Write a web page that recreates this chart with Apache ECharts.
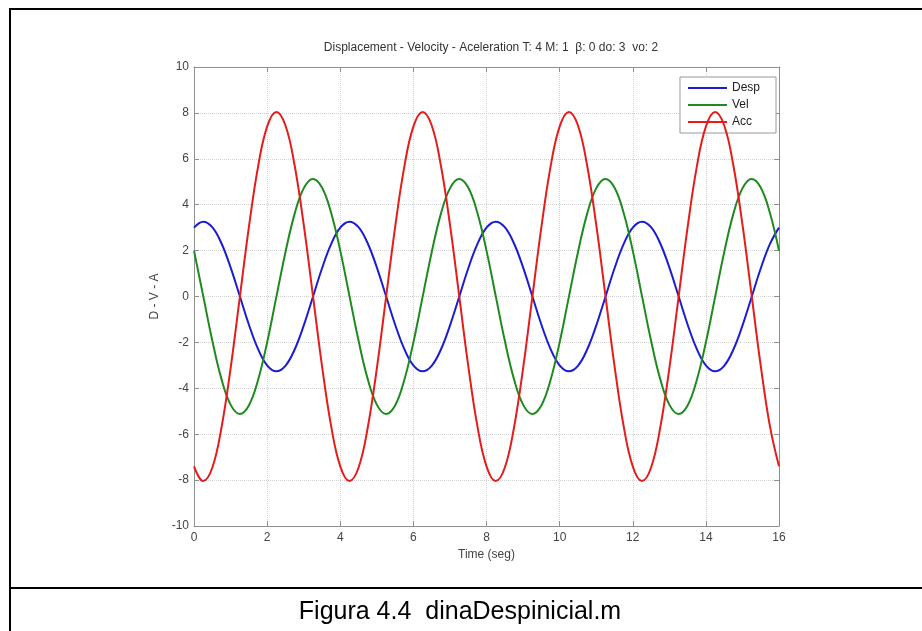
<!DOCTYPE html>
<html>
<head>
<meta charset="utf-8">
<script src="https://cdn.jsdelivr.net/npm/echarts@6/dist/echarts.min.js"></script>
<style>
  html, body { margin: 0; padding: 0; background: #fff; }
  #chart { width: 922px; height: 631px; }
</style>
</head>
<body>
<div id="chart"></div>
<script>
// sample times (s)
const times = [
  0, 0.25, 0.5, 0.75, 1, 1.25, 1.5, 1.75, 2, 2.25, 2.5, 2.75, 3, 3.25, 3.5, 3.75,
  4, 4.25, 4.5, 4.75, 5, 5.25, 5.5, 5.75, 6, 6.25, 6.5, 6.75, 7, 7.25, 7.5, 7.75,
  8, 8.25, 8.5, 8.75, 9, 9.25, 9.5, 9.75, 10, 10.25, 10.5, 10.75, 11, 11.25, 11.5, 11.75,
  12, 12.25, 12.5, 12.75, 13, 13.25, 13.5, 13.75, 14, 14.25, 14.5, 14.75, 15, 15.25, 15.5, 15.75,
  16
]

const desp = [
  3.00, 3.26, 3.02, 2.32, 1.27, 0.03, -1.22, -2.28, -3.00, -3.26, -3.02, -2.32, -1.27, -0.03, 1.22, 2.28,
  3.00, 3.26, 3.02, 2.32, 1.27, 0.03, -1.22, -2.28, -3.00, -3.26, -3.02, -2.32, -1.27, -0.03, 1.22, 2.28,
  3.00, 3.26, 3.02, 2.32, 1.27, 0.03, -1.22, -2.28, -3.00, -3.26, -3.02, -2.32, -1.27, -0.03, 1.22, 2.28,
  3.00, 3.26, 3.02, 2.32, 1.27, 0.03, -1.22, -2.28, -3.00, -3.26, -3.02, -2.32, -1.27, -0.03, 1.22, 2.28,
  3.00
]

const vel = [
  2.00, 0.04, -1.92, -3.59, -4.71, -5.12, -4.75, -3.65, -2.00, -0.04, 1.92, 3.59, 4.71, 5.12, 4.75, 3.65,
  2.00, 0.04, -1.92, -3.59, -4.71, -5.12, -4.75, -3.65, -2.00, -0.04, 1.92, 3.59, 4.71, 5.12, 4.75, 3.65,
  2.00, 0.04, -1.92, -3.59, -4.71, -5.12, -4.75, -3.65, -2.00, -0.04, 1.92, 3.59, 4.71, 5.12, 4.75, 3.65,
  2.00, 0.04, -1.92, -3.59, -4.71, -5.12, -4.75, -3.65, -2.00, -0.04, 1.92, 3.59, 4.71, 5.12, 4.75, 3.65,
  2.00
]

const acc = [
  -7.40, -8.04, -7.46, -5.73, -3.14, -0.07, 3.01, 5.64, 7.40, 8.04, 7.46, 5.73, 3.14, 0.07, -3.01, -5.64,
  -7.40, -8.04, -7.46, -5.73, -3.14, -0.07, 3.01, 5.64, 7.40, 8.04, 7.46, 5.73, 3.14, 0.07, -3.01, -5.64,
  -7.40, -8.04, -7.46, -5.73, -3.14, -0.07, 3.01, 5.64, 7.40, 8.04, 7.46, 5.73, 3.14, 0.07, -3.01, -5.64,
  -7.40, -8.04, -7.46, -5.73, -3.14, -0.07, 3.01, 5.64, 7.40, 8.04, 7.46, 5.73, 3.14, 0.07, -3.01, -5.64,
  -7.40
]

const seriesNames = ['Desp', 'Vel', 'Acc']
const seriesColors = ['#1c1cd2', '#1f8a1f', '#e41c1c']

const chart = echarts.init(document.getElementById('chart'))

const toPairs = arr => arr.map((v, i) => [times[i], v])

const axisGray = '#8f8f8f'
const labelGray = '#444'

const splitLine = {
  show: true,
  lineStyle: { color: '#d2d2d2', type: 'dotted', width: 1 }
}

const boxAxis = {
  axisLine: { show: true, onZero: false, lineStyle: { color: axisGray, width: 1 } },
  axisTick: { show: true, inside: true, length: 5, lineStyle: { color: axisGray } },
  axisLabel: { show: false },
  splitLine: { show: false }
}

const option = {
  animation: false,
  backgroundColor: '#fff',
  title: [{
    text: 'Displacement - Velocity - Aceleration T: 4 M: 1  β: 0 do: 3  vo: 2',
    left: 486,
    textAlign: 'center',
    top: 37,
    textStyle: { fontFamily: 'Liberation Sans', fontSize: 12, fontWeight: 'normal', color: '#333' }
  }],
  legend: {
    data: seriesNames,
    orient: 'vertical',
    right: 146,
    top: 77,
    icon: 'rect',
    itemWidth: 39,
    itemHeight: 2,
    itemGap: 3,
    padding: [4, 16, 4, 8],
    backgroundColor: '#fff',
    borderColor: '#999',
    borderWidth: 1,
    borderRadius: 0,
    textStyle: { fontFamily: 'Liberation Sans', fontSize: 12, color: '#222', lineHeight: 14 }
  },
  grid: { left: 194, right: 143, top: 67, bottom: 105, containLabel: false },
  xAxis: [{
    type: 'value',
    min: 0,
    max: 16,
    interval: 2,
    name: 'Time (seg)',
    nameLocation: 'middle',
    nameGap: 22,
    nameTextStyle: { fontFamily: 'Liberation Sans', fontSize: 12, color: labelGray },
    axisLine: { show: true, onZero: false, lineStyle: { color: axisGray, width: 1 } },
    axisTick: { show: true, inside: true, length: 5, lineStyle: { color: axisGray } },
    axisLabel: { fontFamily: 'Liberation Sans', fontSize: 12, color: labelGray, margin: 6 },
    splitLine: splitLine
  }, Object.assign({
    type: 'value', min: 0, max: 16, interval: 2, position: 'top'
  }, boxAxis)],
  yAxis: [{
    type: 'value',
    min: -10,
    max: 10,
    interval: 2,
    name: 'D - V - A',
    nameLocation: 'middle',
    nameGap: 28,
    nameTextStyle: { fontFamily: 'Liberation Sans', fontSize: 12, color: labelGray },
    axisLine: { show: true, onZero: false, lineStyle: { color: axisGray, width: 1 } },
    axisTick: { show: true, inside: true, length: 5, lineStyle: { color: axisGray } },
    axisLabel: { fontFamily: 'Liberation Sans', fontSize: 12, color: labelGray, margin: 5 },
    splitLine: splitLine
  }, Object.assign({
    type: 'value', min: -10, max: 10, interval: 2, position: 'right'
  }, boxAxis)],
  series: [desp, vel, acc].map((arr, i) => ({
    name: seriesNames[i],
    type: 'line',
    data: toPairs(arr),
    smooth: 0.4,
    showSymbol: false,
    symbol: 'none',
    lineStyle: { color: seriesColors[i], width: 2 },
    itemStyle: { color: seriesColors[i] },
    z: 3 + i
  })),
  graphic: [
    // figure frame
    { type: 'line', shape: { x1: 9, y1: 9, x2: 922, y2: 9 }, style: { stroke: '#000', lineWidth: 2 } },
    { type: 'line', shape: { x1: 10, y1: 8, x2: 10, y2: 631 }, style: { stroke: '#000', lineWidth: 2 } },
    { type: 'line', shape: { x1: 9, y1: 588, x2: 922, y2: 588 }, style: { stroke: '#000', lineWidth: 2 } },
    {
      type: 'text',
      x: 460,
      y: 612,
      style: {
        text: 'Figura 4.4  dinaDespinicial.m',
        fontFamily: 'Liberation Sans',
        fontSize: 25,
        fill: '#000',
        align: 'center',
        verticalAlign: 'middle'
      }
    }
  ]
}

chart.setOption(option)
</script>
</body>
</html>
